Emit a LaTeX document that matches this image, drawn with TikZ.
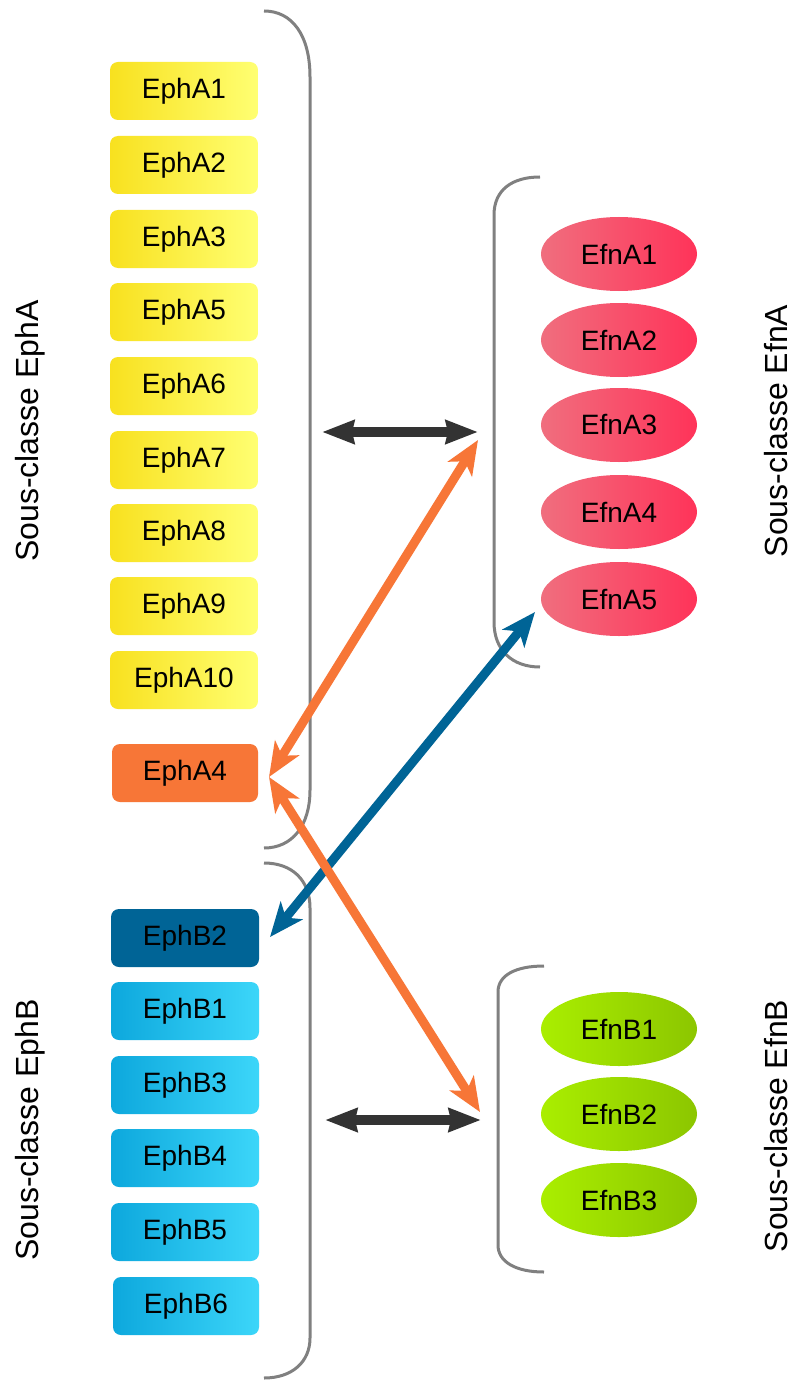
\documentclass[tikz,border=0pt]{standalone}
\usepackage{fontspec}
\setmainfont{Liberation Sans}
\usetikzlibrary{arrows.meta,shapes.geometric}
\definecolor{yelL}{HTML}{F8E11F}
\definecolor{yelR}{HTML}{FFFF72}
\definecolor{bluL}{HTML}{0DA8DD}
\definecolor{bluR}{HTML}{3CD6F9}
\definecolor{redL}{HTML}{F06E7E}
\definecolor{redR}{HTML}{FF3359}
\definecolor{grnL}{HTML}{AAEE00}
\definecolor{grnR}{HTML}{8CC600}
\definecolor{orng}{HTML}{F77637}
\definecolor{dblue}{HTML}{006496}
\definecolor{darkg}{HTML}{333333}
\definecolor{brk}{HTML}{808080}
\begin{document}
\begin{tikzpicture}[x=1pt,y=-1pt,
  every node/.style={font=\fontsize{28}{32}\selectfont, text=black},
  ephbox/.style={rectangle, rounded corners=8pt, minimum width=148pt, minimum height=58pt, inner sep=0pt},
  ephA/.style={ephbox, left color=yelL, right color=yelR},
  ephB/.style={ephbox, left color=bluL, right color=bluR},
  efnA/.style={ellipse, minimum width=156pt, minimum height=74pt, inner sep=0pt, left color=redL, right color=redR},
  efnB/.style={ellipse, minimum width=156pt, minimum height=74pt, inner sep=0pt, left color=grnL, right color=grnR},
  bracket/.style={draw=brk, line width=3pt},
  sublabel/.style={font=\fontsize{32}{36}\selectfont, rotate=90},
  grayarrow/.style={draw=darkg, line width=9.5pt, {Stealth[length=32pt,width=23pt,inset=2pt]}-{Stealth[length=32pt,width=23pt,inset=2pt]}},
  colarrow/.style={line width=9pt, {Stealth[length=34pt,width=28pt,inset=9pt]}-{Stealth[length=34pt,width=28pt,inset=9pt]}}
]
\useasboundingbox (0,0) rectangle (796,1380);
\fill[white] (0,0) rectangle (796,1380);

% brackets
\draw[bracket] (264,11) .. controls (292,11) and (310,35) .. (310,77) -- (310,790) .. controls (310,826) and (292,848) .. (264,848);
\draw[bracket] (264,863) .. controls (292,863) and (310,880) .. (310,908) -- (310,1338) .. controls (310,1362) and (292,1378) .. (264,1378);
\draw[bracket] (540,177) .. controls (512,177) and (494,190) .. (494,215) -- (494,622) .. controls (494,650) and (512,667) .. (540,667);
\draw[bracket] (544,966) .. controls (516,966) and (498,975) .. (498,992) -- (498,1245) .. controls (498,1262) and (516,1272) .. (544,1272);

% EphA nodes
\node[ephA] (a1) at (184,91) {EphA1};
\node[ephA] (a2) at (184,165) {EphA2};
\node[ephA] (a3) at (184,239) {EphA3};
\node[ephA] (a5) at (184,312) {EphA5};
\node[ephA] (a6) at (184,386) {EphA6};
\node[ephA] (a7) at (184,460) {EphA7};
\node[ephA] (a8) at (184,533) {EphA8};
\node[ephA] (a9) at (184,606) {EphA9};
\node[ephA] (a10) at (184,680) {EphA10};
\node[ephbox, fill=orng, minimum width=146pt] (a4) at (185,773) {EphA4};

% EphB nodes
\node[ephbox, fill=dblue] (b2) at (185,938) {EphB2};
\node[ephB] (b1) at (185,1011) {EphB1};
\node[ephB] (b3) at (185,1085) {EphB3};
\node[ephB] (b4) at (185,1158) {EphB4};
\node[ephB] (b5) at (185,1232) {EphB5};
\node[ephB, minimum width=146pt] (b6) at (186,1306) {EphB6};

% Efn nodes
\node[efnA] (ea1) at (619,254) {EfnA1};
\node[efnA] (ea2) at (619,340) {EfnA2};
\node[efnA] (ea3) at (619,425) {EfnA3};
\node[efnA] (ea4) at (619,512) {EfnA4};
\node[efnA] (ea5) at (619,599) {EfnA5};
\node[efnB] (eb1) at (619,1029) {EfnB1};
\node[efnB] (eb2) at (619,1114) {EfnB2};
\node[efnB] (eb3) at (619,1200) {EfnB3};

% labels
\node[sublabel] (lA) at (30,431) {Sous-classe EphA};
\node[sublabel] (lB) at (30,1130) {Sous-classe EphB};
\node[sublabel] (lfA) at (776,431) {Sous-classe EfnA};
\node[sublabel] (lfB) at (776,1126) {Sous-classe EfnB};

% arrow end coordinates
\coordinate (gA1) at (322,432);
\coordinate (gA2) at (478,432);
\coordinate (gB1) at (325,1120);
\coordinate (gB2) at (481,1120);
\coordinate (a4tip) at (269,777);
\coordinate (oA) at (478,440);
\coordinate (oB) at (480,1112);
\coordinate (bA) at (535,612);
\coordinate (bB) at (270,937);

% arrows
\draw[grayarrow] (gA1) -- (gA2);
\draw[grayarrow] (gB1) -- (gB2);
\draw[colarrow, draw=dblue] (bB) -- (bA);
\draw[colarrow, draw=orng] (a4tip) -- (oA);
\draw[colarrow, draw=orng] (a4tip) -- (oB);
\end{tikzpicture}
\end{document}
